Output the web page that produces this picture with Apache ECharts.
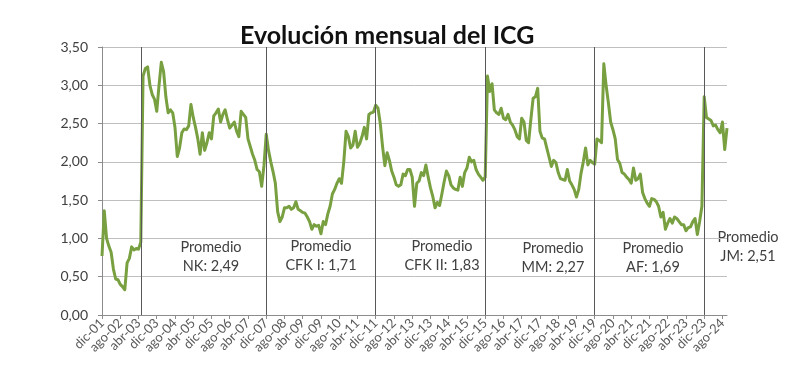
<!DOCTYPE html>
<html>
<head>
<meta charset="utf-8">
<script src="https://cdn.jsdelivr.net/npm/echarts@6/dist/echarts.min.js"></script>
<style>
html,body{margin:0;padding:0;background:#fff;}
#chart{width:800px;height:366px;}
</style>
</head>
<body>
<div id="chart"></div>
<script>
// Monthly categories: dic-01 .. oct-24
const monthNames = ['ene','feb','mar','abr','may','jun','jul','ago','sep','oct','nov','dic'];
const startYear = 2001, startMonth = 11, monthCount = 275;
const categories = [];
for (let k = 0; k < monthCount; k++) {
  const m = (startMonth + k) % 12;
  const y = startYear + Math.floor((startMonth + k) / 12);
  categories.push(monthNames[m] + '-' + String(y % 100).padStart(2, '0'));
}

// ICG monthly values
const icgValues = [
  0.77,1.36,1.00,0.90,0.82,0.60,0.47,0.46,0.40,0.37,0.33,0.68,0.74,0.89,0.85,0.87,0.86,0.95,
  3.12,3.22,3.24,3.00,2.88,2.82,2.66,3.00,3.30,3.18,2.85,2.64,2.68,2.64,2.45,2.07,2.18,2.38,
  2.43,2.42,2.47,2.75,2.58,2.45,2.30,2.10,2.38,2.15,2.25,2.38,2.30,2.60,2.64,2.69,2.52,2.62,
  2.68,2.55,2.44,2.48,2.52,2.40,2.33,2.66,2.62,2.58,2.30,2.20,2.10,2.02,1.90,1.87,1.68,1.95,
  2.36,2.15,2.00,1.87,1.72,1.35,1.22,1.28,1.40,1.40,1.42,1.38,1.40,1.48,1.38,1.36,1.34,1.33,
  1.28,1.22,1.12,1.18,1.16,1.17,1.06,1.22,1.18,1.32,1.42,1.58,1.64,1.72,1.78,1.72,2.00,2.40,
  2.33,2.18,2.22,2.40,2.19,2.24,2.33,2.45,2.30,2.62,2.64,2.65,2.74,2.70,2.50,2.20,1.95,2.12,
  2.02,1.88,1.80,1.70,1.68,1.70,1.84,1.82,1.90,1.90,1.80,1.42,1.72,1.75,1.86,1.82,1.96,1.80,
  1.66,1.55,1.40,1.47,1.43,1.58,1.74,1.88,1.82,1.70,1.66,1.64,1.63,1.80,1.68,1.86,1.92,2.06,
  2.00,2.02,1.90,1.84,1.80,1.76,1.80,3.12,2.92,3.02,2.68,2.64,2.62,2.70,2.57,2.55,2.62,2.52,
  2.48,2.42,2.33,2.30,2.57,2.52,2.28,2.25,2.55,2.83,2.85,2.96,2.40,2.31,2.30,2.18,2.06,1.94,
  2.02,1.99,1.86,1.78,1.77,1.76,1.90,1.75,1.70,1.64,1.54,1.64,1.85,2.00,2.18,1.96,2.02,1.99,
  1.97,2.30,2.28,2.25,3.28,3.00,2.77,2.52,2.42,2.30,2.03,1.98,1.86,1.84,1.80,1.77,1.72,1.92,
  1.76,1.78,1.84,1.60,1.52,1.46,1.42,1.52,1.51,1.48,1.42,1.28,1.34,1.12,1.20,1.26,1.20,1.28,
  1.26,1.22,1.18,1.18,1.10,1.14,1.15,1.22,1.26,1.05,1.22,1.42,2.85,2.58,2.56,2.54,2.47,2.48,
  2.42,2.38,2.52,2.16,2.44
];

// Government change markers
const periodStarts = ['may-03','dic-07','dic-11','dic-15','dic-19','dic-23'];

// Average annotations
const avgLabels = ['NK: 2,49','CFK I: 1,71','CFK II: 1,83','MM: 2,27','AF: 1,69','JM: 2,51'];
const avgPos = [[211,247],[321,246],[442,246],[553,248],[653,248],[748,237]];

const fontFamily = 'Lato, "Open Sans", sans-serif';
const chart = echarts.init(document.getElementById('chart'));

const graphics = [];
avgLabels.forEach((t, k) => {
  graphics.push({
    type: 'text', x: avgPos[k][0], y: avgPos[k][1], silent: true,
    style: { text: 'Promedio', fontFamily, fontSize: 14.5, fill: '#404040', align: 'center', verticalAlign: 'middle' }
  });
  graphics.push({
    type: 'text', x: avgPos[k][0], y: avgPos[k][1] + 19, silent: true,
    style: { text: t, fontFamily, fontSize: 14.5, fill: '#404040', align: 'center', verticalAlign: 'middle' }
  });
});

chart.setOption({
  animation: false,
  backgroundColor: '#ffffff',
  title: {
    text: 'Evolución mensual del ICG',
    left: 235, top: 18,
    textStyle: { fontFamily, fontSize: 25, fontWeight: 'bold', color: '#111111' }
  },
  grid: { left: 102, right: 73, top: 47, bottom: 51, containLabel: false },
  xAxis: {
    type: 'category',
    data: categories,
    boundaryGap: false,
    axisLine: { show: true, lineStyle: { color: '#8c8c8c', width: 1 } },
    axisTick: { show: true, interval: 7, length: 4, lineStyle: { color: '#8c8c8c' } },
    axisLabel: { interval: 7, rotate: 45, fontFamily, fontSize: 13, color: '#595959', margin: 6 },
    splitLine: { show: false }
  },
  yAxis: {
    type: 'value',
    min: 0, max: 3.5, interval: 0.5,
    axisLine: { show: true, lineStyle: { color: '#8c8c8c', width: 1 } },
    axisTick: { show: true, length: 4, lineStyle: { color: '#8c8c8c' } },
    axisLabel: {
      fontFamily, fontSize: 14, color: '#404040', margin: 14,
      formatter: v => v.toFixed(2).replace('.', ',')
    },
    splitLine: { show: true, lineStyle: { color: '#bfbfbf', width: 1 } }
  },
  series: [{
    type: 'line',
    data: icgValues,
    showSymbol: false,
    symbol: 'none',
    smooth: false,
    lineStyle: { color: '#78a040', width: 3, join: 'round' },
    itemStyle: { color: '#78a040' },
    markLine: {
      silent: true,
      symbol: ['none', 'none'],
      label: { show: false },
      lineStyle: { color: '#595959', width: 1, type: 'solid' },
      data: periodStarts.map(c => ({ xAxis: c }))
    },
    z: 3
  }],
  graphic: graphics
});
</script>
</body>
</html>
